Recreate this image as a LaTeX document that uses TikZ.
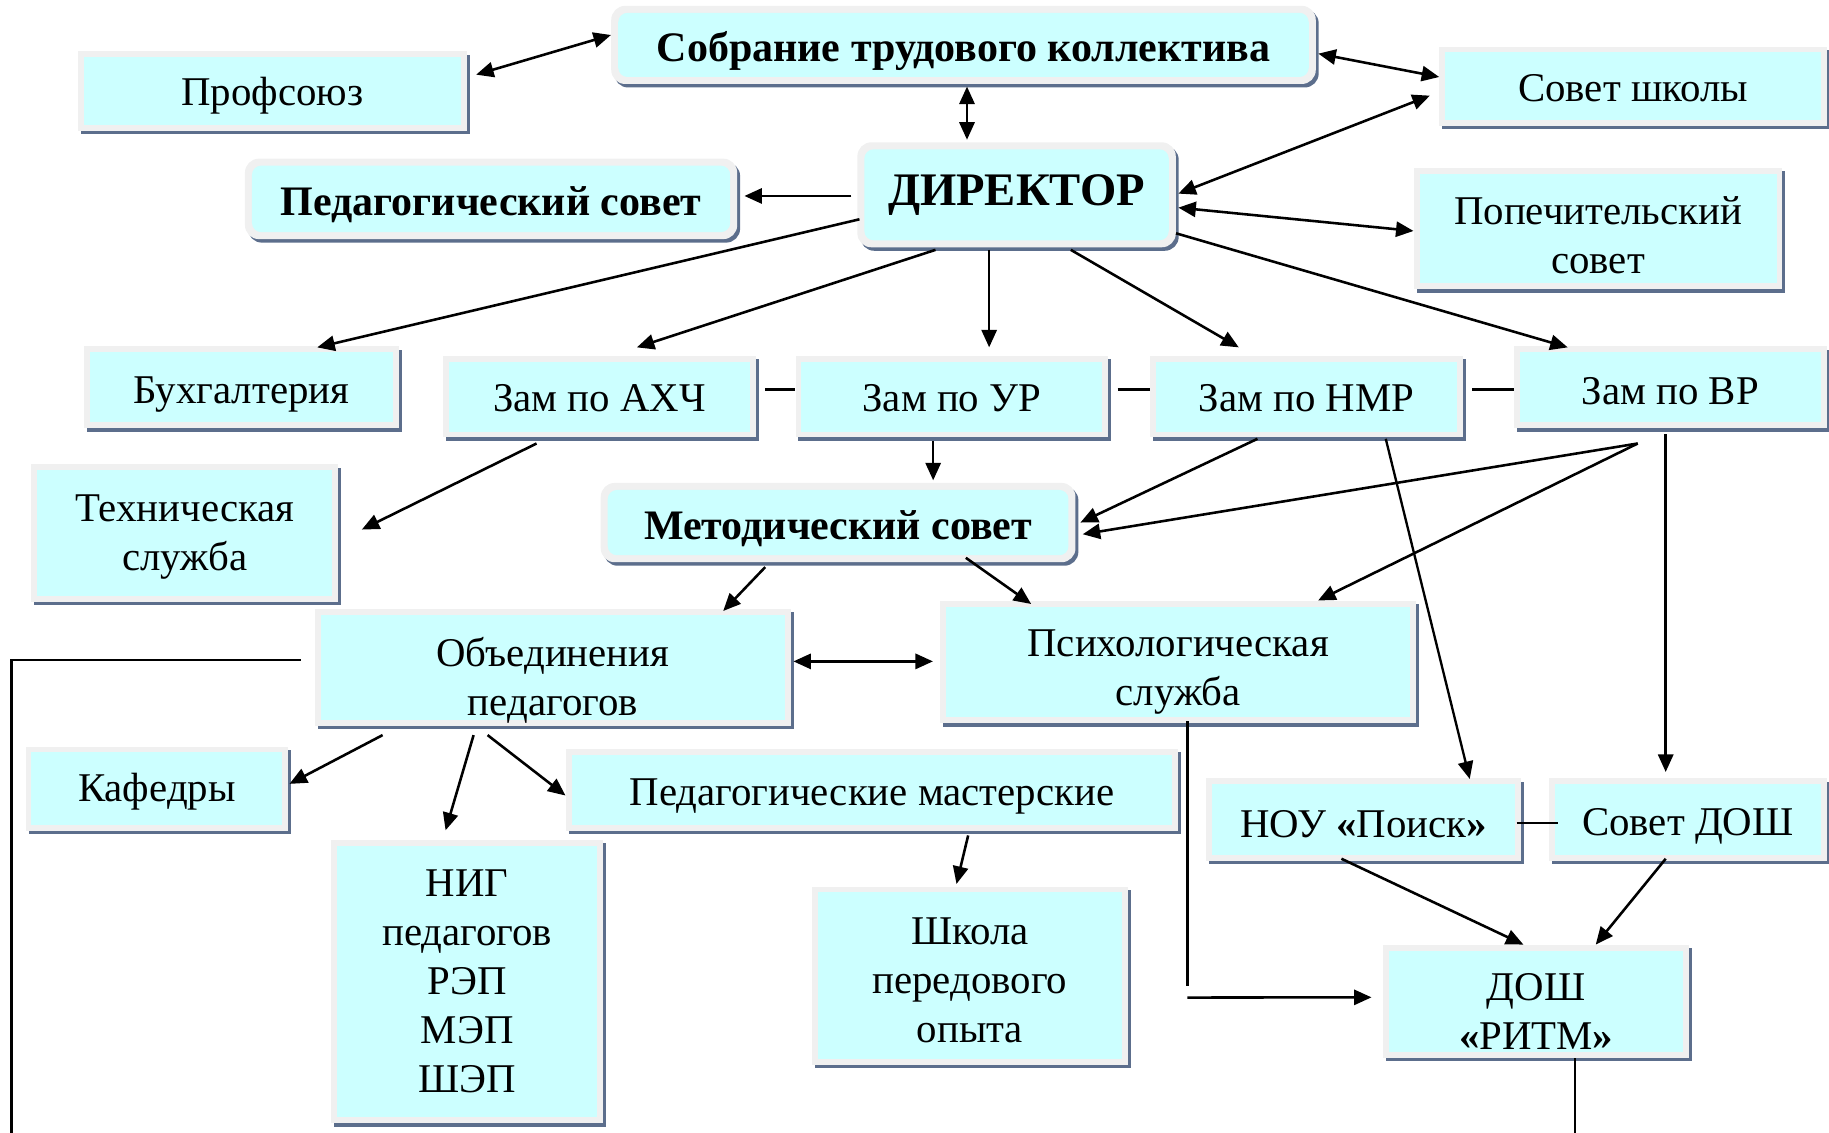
\documentclass[tikz,border=0pt]{standalone}
\usepackage{fontspec}
\setmainfont{Liberation Serif}
\usetikzlibrary{arrows.meta,calc,shadows}
\definecolor{cyanc}{RGB}{204,255,255}
\definecolor{frameg}{RGB}{240,240,240}
\definecolor{shadc}{RGB}{92,110,140}
\newcommand\myfs{\fontsize{35}{42}\selectfont}
\newcommand\myfsb{\fontsize{36}{42}\selectfont\bfseries}
\tikzset{
  box/.style={fill=frameg, inner sep=0pt,
    drop shadow={shadow xshift=2.5pt, shadow yshift=-3pt, fill=shadc, opacity=1},
    path picture={\fill[cyanc] ([shift={(5pt,5pt)}]path picture bounding box.south west) rectangle ([shift={(-5pt,-5pt)}]path picture bounding box.north east);}},
  rbox/.style={fill=frameg, inner sep=0pt, rounded corners=12pt,
    drop shadow={shadow xshift=2.5pt, shadow yshift=-3pt, fill=shadc, opacity=1},
    path picture={\fill[cyanc, rounded corners=8pt] ([shift={(6pt,6pt)}]path picture bounding box.south west) rectangle ([shift={(-6pt,-6pt)}]path picture bounding box.north east);}},
  txt/.style={inner sep=0pt, align=center, font=\myfs},
  arr/.style={-{Triangle[length=15pt,width=13pt]}, line width=2.2pt},
  darr/.style={{Triangle[length=15pt,width=13pt]}-{Triangle[length=15pt,width=13pt]}, line width=2.2pt},
  ln/.style={line width=2pt},
}
% style, width, height, name, position, text shift (down), text
\newcommand\mkbox[7]{%
  \node[#1, minimum width=#2pt, minimum height=#3pt] (#4) at (#5) {};
  \node[txt] (#4-t) at ($(#4.center)+(0,#6)$) {#7};}
\begin{document}
\begin{tikzpicture}[x=1pt,y=-1pt]
\useasboundingbox (0,0) rectangle (1568,971);
% nodes
\mkbox{box}{333}{68}{prof}{233.5,78}{4}{Профсоюз}
\mkbox{rbox}{604}{67}{sobr}{826,38.5}{5}{\myfsb Собрание трудового коллектива}
\mkbox{box}{332}{68}{sovsh}{1400,74}{2}{Совет школы}
\mkbox{rbox}{422}{69}{pedsov}{421,170.5}{5}{\myfsb Педагогический совет}
\mkbox{rbox}{273}{90}{dir}{871.5,167}{0}{\fontsize{40}{46}\selectfont\bfseries ДИРЕКТОР}
\mkbox{box}{316}{104}{popech}{1370,196}{6}{Попечительский\\совет}
\mkbox{box}{270}{70}{buh}{207,332}{6}{Бухгалтерия}
\mkbox{box}{268}{70}{ahch}{514,340}{1}{Зам по АХЧ}
\mkbox{box}{268}{70}{ur}{816,340}{1}{Зам по УР}
\mkbox{box}{268}{70}{nmr}{1120,340}{1}{Зам по НМР}
\mkbox{box}{268}{70}{vr}{1432,332}{3}{Зам по ВР}
\mkbox{box}{263}{118}{tech}{158.5,457}{3.5}{Техническая\\служба}
\mkbox{rbox}{407}{68}{met}{718.5,448}{5}{\myfsb Методический совет}
\mkbox{box}{408}{100}{obed}{474,572}{11}{Объединения\\педагогов}
\mkbox{box}{408}{105}{psych}{1010,567.5}{9}{Психологическая\\служба}
\mkbox{box}{225}{72}{kaf}{134.5,676}{3}{Кафедры}
\mkbox{box}{525}{70}{pedmast}{747.5,677}{6}{Педагогические мастерские}
\mkbox{box}{233}{243}{nig}{400.5,841.5}{0}{НИГ\\педагогов\\РЭП\\МЭП\\ШЭП}
\mkbox{box}{271}{153}{shkola}{831.5,836.5}{4}{Школа\\передового\\опыта}
\mkbox{box}{270}{71}{nou}{1169,702.5}{4}{НОУ {\bfseries«}Поиск{\bfseries»}}
\mkbox{box}{238}{71}{sovdosh}{1447,702.5}{6}{Совет ДОШ}
\mkbox{box}{262}{97}{ritm}{1317,858.5}{9}{ДОШ\\{\bfseries«}РИТМ{\bfseries»}}
\coordinate (lbot) at (10,980);
\coordinate (rbot) at (1350,980);
% connectors
\draw[darr] ($(prof.east)+(8,-14)$) -- ($(sobr.west)+(0,-8.5)$);
\draw[darr] ($(sobr.east)+(2,7.5)$) -- ($(sovsh.west)+(0,-8)$);
\draw[darr] ($(sobr.south)+(3,2)$) -- ($(dir.north)+(-42.5,-2)$);
\draw[darr] ($(sovsh.west)+(-8,8)$) -- ($(dir.east)+(2,-1)$);
\draw[darr] ($(dir.east)+(2,11)$) -- ($(popech.west)+(0,2)$);
\draw[arr] ($(dir.west)+(-5,1)$) -- ($(pedsov.east)+(6,-2.5)$);
\draw[arr] ($(dir.west)+(2,21)$) -- ($(buh.north)+(65,1)$);
\draw[arr] ($(dir.south)+(-69.5,2)$) -- ($(ahch.north)+(32,-7)$);
\draw[arr] ($(dir.south)+(-23.5,2)$) -- ($(ur.north)+(32,-7)$);
\draw[arr] ($(dir.south)+(46.5,2)$) -- ($(nmr.north)+(-58,-7)$);
\draw[arr] ($(dir.east)+(0,33)$) -- ($(vr.north)+(-88,1)$);
\draw[ln] ($(ahch.east)+(8,-6)$) -- ($(ur.west)+(0,-6)$);
\draw[ln] ($(ur.east)+(8,-6)$) -- ($(nmr.west)+(0,-6)$);
\draw[ln] ($(nmr.east)+(8,-6)$) -- ($(vr.west)+(0,2)$);
\draw[arr] ($(ahch.south)+(-54,5)$) -- ($(tech.east)+(20,-3)$);
\draw[arr] ($(ur.south)+(-16,3)$) -- ($(met.north)+(81.5,-2)$);
\draw[arr] ($(nmr.south)+(-42,1)$) -- ($(met.east)+(4,0)$);
\draw[arr] ($(vr.south)+(-28,13)$) -- ($(met.east)+(6,10)$);
\draw[arr] ($(vr.south)+(-28,13)$) -- ($(psych.north)+(120,0)$);
\draw[arr] ($(vr.south)+(-4,5)$) -- ($(sovdosh.north)+(-19,-5)$);
\draw[arr, line width=2pt] ($(nmr.south)+(68,1)$) -- ($(nou.north)+(91,1)$);
\draw[arr] ($(met.south)+(-62.5,4)$) -- ($(obed.north)+(146,2)$);
\draw[arr] ($(met.south)+(109.5,-4)$) -- ($(psych.north)+(-126,3)$);
\draw[darr] ($(obed.east)+(2,-5)$) -- ($(psych.west)+(-6,-0.5)$);
\draw[arr] ($(obed.south)+(-146,8)$) -- ($(kaf.east)+(1,-4)$);
\draw[arr] ($(obed.south)+(-68,8)$) -- ($(nig.north)+(-18.5,-8)$);
\draw[arr] ($(obed.south)+(-56,8)$) -- ($(pedmast.west)+(0,5)$);
\draw[arr] ($(pedmast.south)+(82.5,4)$) -- ($(shkola.north)+(-11.5,-2)$);
\draw[arr] ($(nou.south)+(-19,-2)$) -- ($(ritm.north)+(-11,0)$);
\draw[arr] ($(sovdosh.south)+(-19,-2)$) -- ($(ritm.north)+(51,0)$);
\draw[ln] ($(nou.east)+(-4,3)$) -- ($(sovdosh.west)+(8,3)$);
\draw[ln] ($(psych.south)+(8,-2)$) -- ($(psych.south)+(8,225)$);
\draw[arr] ($(psych.south)+(8,235)$) -- ($(ritm.west)+(-10,-3.5)$);
\draw[ln] ($(obed.west)+(-12,-6)$) -| (lbot);
\draw[ln] ($(ritm.south)+(33,0)$) -- (rbot);
\end{tikzpicture}
\end{document}
